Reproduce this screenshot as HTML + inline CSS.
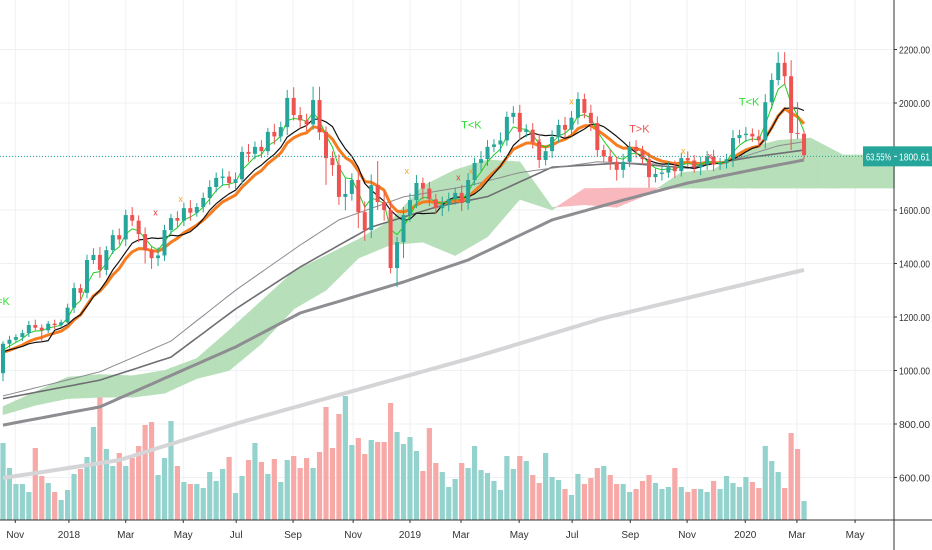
<!DOCTYPE html>
<html><head><meta charset="utf-8"><style>
html,body{margin:0;padding:0;background:#fff;}
svg{display:block;font-family:"Liberation Sans",sans-serif;}
</style></head><body>
<svg id="chart" width="932" height="550" viewBox="0 0 932 550" xmlns="http://www.w3.org/2000/svg">
<g id="grid"></g>
<g id="vol"></g>
<g id="cloud"></g>
<g id="malines"></g>
<g id="candles"></g>
<g id="marks"></g>
<g id="axes"></g>
</svg>
<script>
const closes=[1100,1115,1125,1140,1170,1160,1150,1175,1170,1180,1235,1308,1290,1413,1432,1376,1450,1506,1490,1581,1560,1510,1450,1420,1430,1525,1570,1560,1607,1590,1611,1645,1686,1720,1725,1701,1715,1817,1810,1836,1820,1892,1875,1910,2019,1955,1935,1920,2011,1892,1794,1768,1649,1660,1712,1592,1525,1693,1630,1600,1383,1480,1581,1637,1701,1680,1640,1607,1620,1640,1664,1626,1712,1776,1790,1836,1845,1860,1948,1963,1892,1900,1855,1787,1820,1873,1918,1900,1945,2015,1963,1925,1824,1800,1780,1750,1780,1836,1820,1790,1723,1735,1740,1760,1745,1794,1785,1760,1770,1800,1770,1775,1790,1869,1880,1885,1875,1860,2003,2086,2150,2100,1888,1885,1805];
const firstOpen=990;
const wickUp=[10,15,10,12,15,20,12,10,15,10,15,20,15,20,25,30,15,20,25,20,30,20,25,15,30,20,15,25,20,30,15,20,25,20,30,20,25,20,30,20,25,15,30,20,30,40,30,25,50,50,20,25,40,60,25,30,40,40,90,40,30,20,30,25,30,20,25,20,30,25,20,30,25,20,30,25,20,30,20,25,30,20,25,30,20,25,20,30,25,25,20,30,25,20,25,20,30,20,25,20,25,20,25,20,25,20,25,20,30,20,25,20,20,30,20,25,20,25,30,25,40,40,60,115,10];
const wickDn=[30,15,10,15,15,10,40,10,15,10,15,20,25,20,15,30,20,15,20,25,20,30,50,40,30,20,15,25,20,30,15,20,25,20,30,20,25,20,30,20,25,15,30,20,30,20,30,25,20,30,100,40,30,50,25,60,40,30,30,40,20,71,60,25,30,40,25,20,30,25,20,30,25,20,30,25,20,30,20,25,30,20,25,30,20,25,20,30,25,25,20,30,25,20,30,40,30,20,25,20,40,20,25,20,25,20,25,20,30,20,25,20,20,30,20,25,20,25,30,25,20,30,64,20,15];
const volumes=[770,520,360,360,280,720,440,370,280,200,300,460,510,630,930,1280,710,540,670,540,620,740,950,980,450,620,990,540,380,360,360,320,480,390,510,630,270,440,600,770,580,460,610,380,600,640,520,620,520,680,1130,720,1060,1240,750,820,660,800,780,780,1170,880,760,830,690,490,920,570,480,330,410,570,520,740,500,470,390,300,640,510,640,590,450,370,670,430,400,310,250,460,360,420,520,540,450,360,360,280,310,390,450,370,310,330,520,330,280,310,310,280,390,310,440,370,330,430,380,320,740,590,480,320,870,710,190];
const volUp=[1,1,1,1,1,0,0,1,0,1,1,1,0,1,1,0,1,1,0,1,0,0,0,0,1,1,1,0,1,0,1,1,1,1,1,0,1,1,0,1,0,1,0,1,1,0,0,0,1,0,0,0,0,1,1,0,0,1,0,0,0,1,1,1,1,0,0,0,1,1,1,0,1,1,1,1,1,1,1,1,0,1,0,0,1,1,1,0,1,1,0,0,0,1,0,0,1,1,0,0,0,1,1,1,0,1,0,0,1,1,0,1,1,1,1,1,0,0,1,1,1,0,0,0,1];
const maAIdx=[0,15,26,36,46,52,62,72,80,92,103,112,120,124];
const maAVal=[905,995,1110,1300,1469,1563,1649,1690,1740,1780,1770,1780,1840,1855];
const maBIdx=[0,15,26,36,46,57,67,75,85,96,106,116,124];
const maBVal=[895,964,1050,1230,1387,1536,1611,1650,1760,1776,1757,1798,1824];
const maCIdx=[0,15,36,46,62,72,85,96,106,116,124];
const maCVal=[796,864,1088,1215,1331,1413,1563,1637,1701,1750,1787];
const maDIdx=[0,18,37,73,93,124];
const maDVal=[598,665,808,1050,1196,1376];
const cloudIdx=[0,5,10,15,20,25,30,35,40,45,50,55,60,65,70,75,80,85,90,95,100,105,110,115,120,125,130,135,138];
const spanA=[865,920,975,985,980,1000,1045,1150,1260,1370,1430,1490,1560,1690,1750,1787,1780,1610,1620,1610,1660,1740,1750,1830,1860,1869,1806,1806,1806];
const spanB=[835,870,895,900,900,915,970,1000,1100,1230,1300,1420,1470,1480,1430,1500,1640,1600,1680,1682,1682,1682,1682,1682,1682,1682,1682,1682,1682];
const priceTicks=[2200,2000,1800,1600,1400,1200,1000,800,600];
const timeLabels=["Nov","2018","Mar","May","Jul","Sep","Nov","2019","Mar","May","Jul","Sep","Nov","2020","Mar","May"];
const timeIdx=[1.9,10.2,19.0,27.9,36.1,44.9,54.2,63.0,70.9,79.9,88.1,97.1,105.9,114.9,122.9,131.9];
const lastPrice=1800.61;

const NS="http://www.w3.org/2000/svg";
const PW=894, PH=520;
const X=i=>1+i*6.46+2;
const Y=v=>103+(2000-v)*0.2675;
const VY=v=>PH-v/10;
function mk(parent,tag,attrs){const e=document.createElementNS(NS,tag);for(const k in attrs)e.setAttribute(k,attrs[k]);parent.appendChild(e);return e;}
const gGrid=document.getElementById('grid'),gVol=document.getElementById('vol'),gCloud=document.getElementById('cloud'),gMa=document.getElementById('malines'),gC=document.getElementById('candles'),gM=document.getElementById('marks'),gAx=document.getElementById('axes');

priceTicks.forEach(p=>{const l=mk(gGrid,'line',{x1:0,x2:PW,y1:Y(p),y2:Y(p),stroke:'#eef0f4','stroke-width':1});

});
timeIdx.forEach(t=>{const l=mk(gGrid,'line',{x1:X(t),x2:X(t),y1:0,y2:PH,stroke:'#eef0f4','stroke-width':1});

});

volumes.forEach((v,i)=>{const r=mk(gVol,'rect',{x:X(i)-2.6,y:VY(v),width:5.2,height:PH-VY(v),fill:volUp[i]?'#94d3cd':'#f7a9a7'});

});

function interp(idx,val,i){if(i<=idx[0])return val[0];for(let k=1;k<idx.length;k++){if(i<=idx[k]){const t=(i-idx[k-1])/(idx[k]-idx[k-1]);return val[k-1]+t*(val[k]-val[k-1]);}}return val[val.length-1];}

const last=cloudIdx[cloudIdx.length-1];
const segs=[];
for(let i=0;i<=last;i+=0.5){segs.push([i,interp(cloudIdx,spanA,i),interp(cloudIdx,spanB,i)]);}
for(let k=0;k<segs.length-1;k++){const [i0,a0,b0]=segs[k],[i1,a1,b1]=segs[k+1];
const green=(a0+a1)>=(b0+b1);
const p=mk(gCloud,'polygon',{points:`${X(i0)},${Y(a0)} ${X(i1)},${Y(a1)} ${X(i1)},${Y(b1)} ${X(i0)},${Y(b0)}`,fill:green?'#b7dfb9':'#f8b8bd',stroke:green?'#b7dfb9':'#f8b8bd','stroke-width':0.6});

}

function drawSampled(idx,val,color,w,name){let d='';for(let i=0;i<=124;i++){d+=(i?'L':'M')+X(i).toFixed(1)+','+Y(interp(idx,val,i)).toFixed(1);}
const p=mk(gMa,'path',{d:d,fill:'none',stroke:color,'stroke-width':w,'stroke-linejoin':'round'});

}
drawSampled(maDIdx,maDVal,'#d5d5d8',4,'ma-200-line');
drawSampled(maCIdx,maCVal,'#8d8d92',3,'ma-100-line');
drawSampled(maBIdx,maBVal,'#6e6e73',1.6,'ma-50-line');
drawSampled(maAIdx,maAVal,'#8a8a8f',1,'ma-40-line');

function ema(n){const k=2/(n+1);let e=closes[0]-40;return closes.map(c=>e=c*k+e*(1-k));}
function sma(n){return closes.map((c,i)=>{const s=closes.slice(Math.max(0,i-n+1),i+1);return s.reduce((a,b)=>a+b,0)/s.length-(i<n?30:0);});}
function drawSeries(arr,color,w,name){let d='';arr.forEach((v,i)=>{d+=(i?'L':'M')+X(i).toFixed(1)+','+Y(v).toFixed(1);});
const p=mk(gMa,'path',{d:d,fill:'none',stroke:color,'stroke-width':w,'stroke-linejoin':'round'});

}
drawSeries(ema(10),'#f57c1f',3,'ema-orange-line');
drawSeries(sma(8),'#111',1.2,'sma-black-line');
drawSeries(ema(4),'#22cc22',1,'ema-green-line');

closes.forEach((c,i)=>{const o=i?closes[i-1]:firstOpen;const up=c>=o;const col=up?'#26a69a':'#ef5350';
const hi=Math.max(o,c)+wickUp[i],lo=Math.min(o,c)-wickDn[i];
const g=mk(gC,'g',{});


mk(g,'line',{x1:X(i),x2:X(i),y1:Y(hi),y2:Y(lo),stroke:col,'stroke-width':1});
const top=Y(Math.max(o,c)),h=Math.max(1,Y(Math.min(o,c))-top);
mk(g,'rect',{x:X(i)-2,y:top,width:4,height:h,fill:col});});

const pl=mk(gAx,'line',{x1:0,x2:PW,y1:Y(lastPrice),y2:Y(lastPrice),stroke:'#26a69a','stroke-width':1,'stroke-dasharray':'1,2'});



const markTexts=["=K","T<K","T<K","T>K","x","x","x","x","x","x","x","x","x","x"];
const markIdx=[0,72.5,115.5,98.5,23.6,27.5,49,70.5,72.4,62.5,88,83,105.3,109.4];
const markVal=[1245,1905,1990,1890,1580,1630,1890,1710,1735,1735,1995,1845,1810,1790];
const markCol=["#33dd33","#33dd33","#33dd33","#ef5350","#e53935","#f5a623","#e53935","#e53935","#f5a623","#f5a623","#f5a623","#e53935","#f5a623","#e53935"];
markTexts.forEach((t,k)=>{const e=mk(gM,'text',{x:X(markIdx[k]),y:Y(markVal[k]),fill:markCol[k],'font-size':t.length>1?11:9,'text-anchor':'middle'});e.textContent=t;

});

mk(gAx,'line',{x1:PW,x2:PW,y1:0,y2:550,stroke:'#333','stroke-width':1});
mk(gAx,'line',{x1:0,x2:932,y1:PH,y2:PH,stroke:'#333','stroke-width':1});
priceTicks.forEach(p=>{mk(gAx,'line',{x1:PW,x2:PW+3,y1:Y(p),y2:Y(p),stroke:'#333'});
const t=mk(gAx,'text',{x:899,y:Y(p)+4,fill:'#333','font-size':10,textLength:31,lengthAdjust:'spacingAndGlyphs'});t.textContent=p.toFixed(2);

});
timeLabels.forEach((s,k)=>{mk(gAx,'line',{x1:X(timeIdx[k]),x2:X(timeIdx[k]),y1:PH,y2:PH+3,stroke:'#333'});
const t=mk(gAx,'text',{x:X(timeIdx[k]),y:538,fill:'#333','font-size':10,'text-anchor':'middle'});t.textContent=s;

});
const tag=mk(gAx,'g',{});


mk(tag,'rect',{x:863,y:Y(lastPrice)-10,width:69,height:20,fill:'#26a69a'});
const t1=mk(tag,'text',{x:866,y:Y(lastPrice)+4,fill:'#fff','font-size':10,textLength:25,lengthAdjust:'spacingAndGlyphs'});t1.textContent='63.55%';
mk(tag,'line',{x1:894,x2:897,y1:Y(lastPrice),y2:Y(lastPrice),stroke:'#fff'});
const t2=mk(tag,'text',{x:899,y:Y(lastPrice)+4,fill:'#fff','font-size':10,textLength:31,lengthAdjust:'spacingAndGlyphs'});t2.textContent=lastPrice.toFixed(2);
</script>
</body></html>
